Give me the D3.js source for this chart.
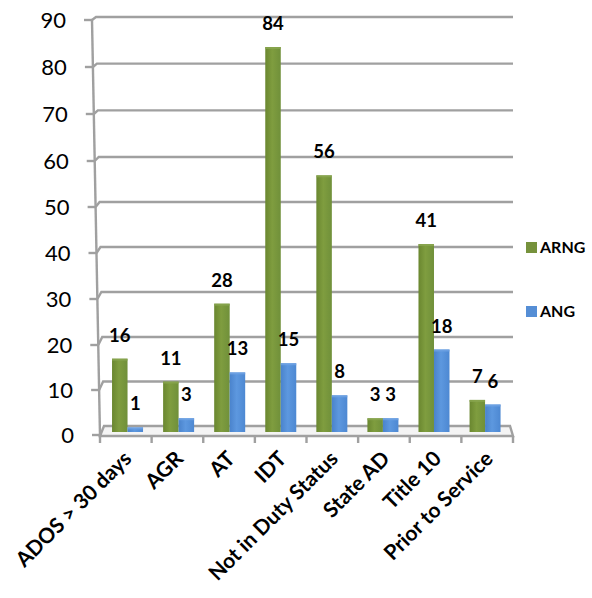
<!DOCTYPE html>
<html>
<head>
<meta charset="utf-8">
<script src="https://cdn.jsdelivr.net/npm/d3@7"></script>
<style>
  html, body { margin: 0; padding: 0; background: #ffffff; }
  svg { display: block; }
  text { font-family: Lato, "Open Sans", sans-serif; }
</style>
</head>
<body>
<div id="chart"></div>
<script>
// ---- data ----
const categories = ["ADOS > 30 days", "AGR", "AT", "IDT", "Not in Duty Status", "State AD", "Title 10", "Prior to Service"];
const arng = [16, 11, 28, 84, 56, 3, 41, 7];
const ang = [1, 3, 13, 15, 8, 3, 18, 6];
const seriesNames = ["ARNG", "ANG"];
const yTicks = [0, 10, 20, 30, 40, 50, 60, 70, 80, 90];

const W = 592, H = 598;
const svg = d3.select("#chart").append("svg").attr("width", W).attr("height", H);

const defs = svg.append("defs");
function grad(id, stops) {
  const g = defs.append("linearGradient").attr("id", id).attr("x1", "0%").attr("x2", "100%").attr("y1", "0%").attr("y2", "0%");
  stops.forEach(s => g.append("stop").attr("offset", s[0]).attr("stop-color", s[1]));
}
grad("gGreen", [["0%", "#6a8730"], ["45%", "#7f9d3f"], ["100%", "#70903a"]]);
grad("gBlue", [["0%", "#4a83cc"], ["45%", "#5d98df"], ["100%", "#4d88d2"]]);
const colors = { ARNG: "url(#gGreen)", ANG: "url(#gBlue)" };
const legendColors = { ARNG: "#76923c", ANG: "#558ed5" };

// ---- scales ----
const yTick = d3.scaleLinear().domain([0, 20, 60, 90]).range([435, 345, 161, 20]);
const yGrid = d3.scaleLinear().domain([0, 20, 60, 90]).range([426, 337, 157, 17]);
const yBar = d3.scaleLinear().domain([0, 90]).range([432, 19.5]);
const wallX = d3.scaleLinear().domain([20, 435]).range([92, 100]);
const xFront = d3.scaleBand().domain(categories).range([100, 513]).padding(0);
const xBar = d3.scaleBand().domain(categories).range([102, 510.6]).padding(0);
const gridRight = 513;
const gray = "#a0a0a0";

// ---- gridlines & wall ----
const grid = svg.append("g");
yTicks.forEach(v => {
  if (v === 0) return;
  const yf = yTick(v), yb = yGrid(v), xw = wallX(yf);
  grid.append("path")
    .attr("d", `M${xw},${yf} L${xw + 4},${yb} L${gridRight},${yb}`)
    .attr("fill", "none").attr("stroke", gray).attr("stroke-width", 2.4);
});
// floor
const yF0 = yTick(0) + 1, yB0 = yGrid(0);
grid.append("path")
  .attr("d", `M${wallX(yTick(0))},${yF0} L${wallX(yTick(0)) + 4},${yB0} L${gridRight - 3},${yB0} L${gridRight},${yF0} Z`)
  .attr("fill", "#f4f4f4").attr("stroke", gray).attr("stroke-width", 2.4);
// wall line
grid.append("line")
  .attr("x1", wallX(yTick(90))).attr("y1", yTick(90))
  .attr("x2", wallX(yTick(0))).attr("y2", yTick(0) + 1)
  .attr("stroke", gray).attr("stroke-width", 2.4);

// y ticks and labels
const yAxisG = svg.append("g");
yTicks.forEach(v => {
  const yf = yTick(v), xw = wallX(yf);
  yAxisG.append("line").attr("x1", xw - 8).attr("x2", xw).attr("y1", yf).attr("y2", yf)
    .attr("stroke", gray).attr("stroke-width", 2.4);
  yAxisG.append("text").attr("x", xw - 26).attr("y", yf).attr("dy", "0.36em")
    .attr("text-anchor", "end").attr("font-size", 22).attr("fill", "#000").text(v);
});

// category ticks
const xAxisG = svg.append("g");
const tickPositions = categories.map(c => xFront(c)).concat([xFront.range()[1]]);
tickPositions.forEach(x => {
  xAxisG.append("line").attr("x1", x).attr("x2", x).attr("y1", yF0).attr("y2", yF0 + 7)
    .attr("stroke", gray).attr("stroke-width", 2.4);
});
categories.forEach(c => {
  const cx = xFront(c) + xFront.bandwidth() / 2 + 7;
  xAxisG.append("text")
    .attr("transform", `translate(${cx},${460}) rotate(-45)`)
    .attr("text-anchor", "end").attr("font-size", 21).attr("font-weight", "bold")
    .attr("fill", "#000").text(c);
});

// ---- bars ----
const barW = 15.5;
const barsG = svg.append("g");
const series = [
  { name: "ARNG", values: arng, off: -barW },
  { name: "ANG", values: ang, off: 0 }
];
series.forEach(s => {
  categories.forEach((c, i) => {
    const cx = xBar(c) + xBar.bandwidth() / 2;
    const x = cx + s.off;
    const yt = yBar(s.values[i]);
    barsG.append("rect").attr("x", x).attr("y", yt).attr("width", barW).attr("height", yBar(0) - yt)
      .attr("fill", colors[s.name]);
    barsG.append("rect").attr("x", x).attr("y", yt).attr("width", barW).attr("height", 2)
      .attr("fill", s.name === "ARNG" ? "#8aa650" : "#6fa3e3").attr("opacity", 0.8);
    barsG.append("text").attr("x", x + barW / 2).attr("y", yt - 17)
      .attr("text-anchor", "middle").attr("font-size", 18.5).attr("font-weight", "bold")
      .attr("fill", "#000").text(s.values[i]);
  });
});

// ---- legend ----
const legend = svg.append("g");
const legendY = [242, 306];
seriesNames.forEach((n, i) => {
  legend.append("rect").attr("x", 526).attr("y", legendY[i]).attr("width", 11).attr("height", 11)
    .attr("fill", legendColors[n]);
  legend.append("text").attr("x", 540).attr("y", legendY[i] + 11).attr("font-size", 16)
    .attr("font-weight", "bold").attr("fill", "#000").text(n);
});
</script>
</body>
</html>
